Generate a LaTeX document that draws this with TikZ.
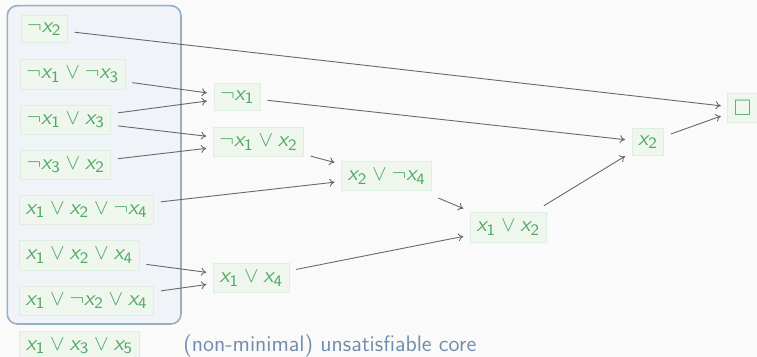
\documentclass[tikz,border=0pt]{standalone}
\usepackage{amsmath,amssymb}
\usetikzlibrary{arrows.meta}
% slanted sans letters and upright sans digits for the literals
\DeclareMathAlphabet{\mathsfsl}{OT1}{cmss}{m}{sl}
\newcommand{\lit}[1]{\mathsfsl{x}_{\mathsf{#1}}}
\newcommand{\picfont}{\fontsize{11.2}{13.8}\selectfont\sffamily}
\definecolor{bgcol}{RGB}{250,250,250}
\definecolor{clausefill}{RGB}{238,246,238}
\definecolor{clauseborder}{RGB}{222,238,224}
\definecolor{clausetext}{RGB}{80,170,100}
\definecolor{corefill}{RGB}{240,244,248}
\definecolor{coreborder}{RGB}{150,174,198}
\definecolor{corelabel}{RGB}{112,142,172}
\definecolor{edgecol}{RGB}{105,105,105}
\begin{document}
\begin{tikzpicture}[x=0.5pt,y=-0.5pt,
  clause/.style={draw=clauseborder, fill=clausefill, text=clausetext,
    line width=0.5pt, inner xsep=3pt, inner ysep=3.4pt, outer sep=3.6pt,
    font=\picfont},
  edge/.style={draw=edgecol, line width=0.45pt, -{To[length=2.6pt,width=4pt]}},
  corebox/.style={draw=coreborder, fill=corefill, line width=0.8pt,
    rounded corners=5pt}]
\fill[bgcol] (0,0) rectangle (757,357);
\useasboundingbox (0,0) rectangle (757,357);

% the core region behind the input clauses
\draw[corebox] (7.3,5.7) rectangle (181,324);
\node[anchor=base west, text=corelabel, font=\picfont, inner sep=0pt]
  (corelabel) at (183,351.7) {(non-minimal) unsatisfiable core};

% input clauses
\node[clause] (c1) at (44.3,28.8)  {$\neg\lit2$};
\node[clause] (c2) at (72.7,74.5)  {$\neg\lit1 \vee \neg\lit3$};
\node[clause] (c3) at (65.7,119.8) {$\neg\lit1 \vee \lit3$};
\node[clause] (c4) at (65.7,164.8) {$\neg\lit3 \vee \lit2$};
\node[clause] (c5) at (86.7,210.2) {$\lit1 \vee \lit2 \vee \neg\lit4$};
\node[clause] (c6) at (79.5,255.5) {$\lit1 \vee \lit2 \vee \lit4$};
\node[clause] (c7) at (86.7,301.2) {$\lit1 \vee \neg\lit2 \vee \lit4$};
\node[clause] (c8) at (79.5,346.2) {$\lit1 \vee \lit3 \vee \lit5$};

% resolvents
\node[clause] (r1) at (237.2,97)    {$\neg\lit1$};
\node[clause] (r2) at (258.5,142.3) {$\neg\lit1 \vee \lit2$};
\node[clause] (r3) at (386.8,176.3) {$\lit2 \vee \neg\lit4$};
\node[clause] (r4) at (251.3,278.3) {$\lit1 \vee \lit4$};
\node[clause] (r5) at (508.3,227.5) {$\lit1 \vee \lit2$};
\node[clause] (r6) at (648,142.2)   {$\lit2$};
\node[clause] (r7) at (742.7,108.3) {$\square$};

% resolution steps
\draw[edge] (c1) -- (r7);
\draw[edge] (c2) -- (r1);
\draw[edge] (c3) -- (r1);
\draw[edge] (c3) -- (r2);
\draw[edge] (c4) -- (r2);
\draw[edge] (r1) -- (r6);
\draw[edge] (r2) -- (r3);
\draw[edge] (c5) -- (r3);
\draw[edge] (r3) -- (r5);
\draw[edge] (c6) -- (r4);
\draw[edge] (c7) -- (r4);
\draw[edge] (r4) -- (r5);
\draw[edge] (r5) -- (r6);
\draw[edge] (r6) -- (r7);
\end{tikzpicture}
\end{document}
